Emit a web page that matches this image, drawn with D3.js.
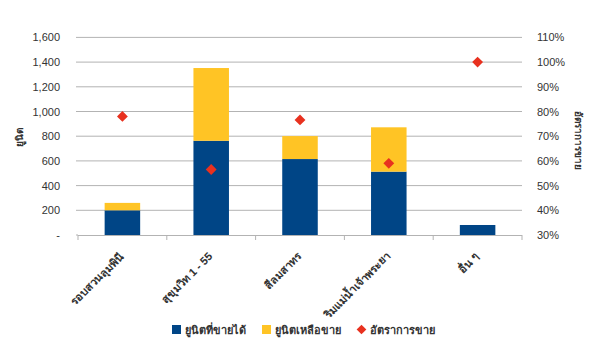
<!DOCTYPE html>
<html><head><meta charset="utf-8">
<script src="https://cdn.jsdelivr.net/npm/d3@7/dist/d3.min.js"></script>
<style>body{margin:0;background:#fff}svg{display:block}text{font-family:"Liberation Sans",Arial,"Noto Sans",sans-serif}</style>
</head><body><svg id="c" width="600" height="361"></svg>
<script>
const categories = ["รอบสวนลุมพินี", "สุขุมวิท 1 - 55", "สีลมสาทร", "ริมแม่น้ำเจ้าพระยา", "อื่น ๆ"];
const soldUnits = [200, 763, 615, 513, 81];
const remainUnits = [60, 589, 186, 359, 0];
const salesRate = [0.78, 0.565, 0.766, 0.59, 1.0];
const leftTicks = [0, 200, 400, 600, 800, 1000, 1200, 1400, 1600];
const rightTicks = [0.3, 0.4, 0.5, 0.6, 0.7, 0.8, 0.9, 1.0, 1.1];
const seriesNames = ["ยูนิตที่ขายได้", "ยูนิตเหลือขาย", "อัตราการขาย"];
const colors = ["#004586", "#ffc425", "#e8311f"];

const svg = d3.select("#c");
const L = 78, R = 522, T = 37.4, B = 235;
const x = d3.scaleBand().domain(categories).range([L, R]).paddingInner(0.6).paddingOuter(0.3);
const xb = d3.scaleBand().domain(categories).range([L, R]);
const y = d3.scaleLinear().domain([0, 1600]).range([B, T]);
const y2 = d3.scaleLinear().domain([0.3, 1.1]).range([B, T]);

// gridlines
svg.append("g").selectAll("line").data(leftTicks.slice(1)).join("line")
  .attr("x1", L).attr("x2", R).attr("y1", d => y(d)).attr("y2", d => y(d))
  .attr("stroke", "#b3b3b3").attr("stroke-width", 1);

// bars
const stackData = categories.map((c, i) => ({cat: c, sold: soldUnits[i], remain: remainUnits[i]}));
const stack = d3.stack().keys(["sold", "remain"])(stackData);
stack.forEach((s, si) => {
  svg.append("g").selectAll("rect").data(s).join("rect")
    .attr("x", d => x(d.data.cat)).attr("width", x.bandwidth())
    .attr("y", d => y(d[1])).attr("height", d => y(d[0]) - y(d[1]))
    .attr("fill", colors[si]);
});

// x axis
svg.append("line").attr("x1", L).attr("x2", R).attr("y1", B + 0.5).attr("y2", B + 0.5).attr("stroke", "#b3b3b3");
const bounds = categories.map(c => xb(c)).concat([R]);
svg.append("g").selectAll("line").data(bounds).join("line")
  .attr("x1", d => d).attr("x2", d => d).attr("y1", B).attr("y2", B + 5).attr("stroke", "#b3b3b3");

svg.append("g").selectAll("text").data(categories).join("text")
  .attr("transform", d => `translate(${xb(d) + xb.bandwidth() / 2 + 2},${B + 22}) rotate(-45)`)
  .attr("text-anchor", "end").attr("font-size", 11).attr("font-weight", "bold").attr("fill", "#333")
  .text(d => d);

// left ticks
svg.append("g").selectAll("text").data(leftTicks).join("text")
  .attr("x", 60).attr("y", d => y(d) + 4).attr("text-anchor", "end")
  .attr("font-size", 11).attr("fill", "#333")
  .text(d => d === 0 ? "-" : d3.format(",")(d));
svg.append("g").selectAll("line").data(leftTicks).join("line")
  .attr("x1", L - 2).attr("x2", L).attr("y1", d => y(d)).attr("y2", d => y(d)).attr("stroke", "#b3b3b3");

// right ticks
svg.append("g").selectAll("text").data(rightTicks).join("text")
  .attr("x", 537).attr("y", d => y2(d) + 4).attr("text-anchor", "start")
  .attr("font-size", 11).attr("fill", "#333")
  .text(d => Math.round(d * 100) + "%");

// axis titles
svg.append("text").attr("transform", `translate(23,137) rotate(-90)`).attr("text-anchor", "middle")
  .attr("font-size", 10).attr("font-weight", "bold").attr("fill", "#333").text("ยูนิต");
svg.append("text").attr("transform", `translate(575,140) rotate(90)`).attr("text-anchor", "middle")
  .attr("font-size", 10).attr("font-weight", "bold").attr("fill", "#333").text("อัตราการขาย");

// diamonds
const dsym = d3.symbol().type(d3.symbolDiamond2).size(75);
svg.append("g").selectAll("path").data(categories).join("path")
  .attr("d", dsym)
  .attr("transform", (d, i) => `translate(${xb(d) + xb.bandwidth() / 2},${y2(salesRate[i])})`)
  .attr("fill", colors[2]);

// legend
const lg = svg.append("g");
const lx = [172, 262, 357];
seriesNames.forEach((n, i) => {
  if (i < 2) lg.append("rect").attr("x", lx[i]).attr("y", 325).attr("width", 9).attr("height", 9).attr("fill", colors[i]);
  else lg.append("path").attr("d", d3.symbol().type(d3.symbolDiamond2).size(60)).attr("transform", `translate(${lx[i] + 4.5},329.5)`).attr("fill", colors[i]);
  lg.append("text").attr("x", lx[i] + 13).attr("y", 334).attr("font-size", 11).attr("font-weight", "bold").attr("fill", "#333").text(n);
});
</script></body></html>
